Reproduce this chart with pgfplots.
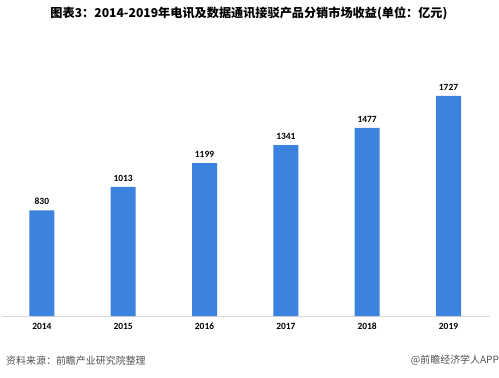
\documentclass[border=0pt]{standalone}
\usepackage{fontspec}
\usepackage{pgfplots}
\pgfplotsset{compat=1.18}
\setmainfont{Carlito}
\newfontfamily\cjk{Noto Sans CJK SC}
\definecolor{barblue}{RGB}{60,131,224}
\definecolor{axgray}{RGB}{217,217,217}
\definecolor{srcgray}{RGB}{80,80,80}
\begin{document}
\begin{tikzpicture}[x=1bp,y=1bp]
\path[use as bounding box] (0,0) rectangle (499,377);
\begin{axis}[
  at={(2bp,61bp)}, anchor=south west,
  scale only axis, width=488bp, height=235.7bp,
  xmin=-0.49, xmax=5.51, ymin=0, ymax=1850,
  axis x line=bottom, axis y line=none,
  x axis line style={draw=axgray, line width=0.8pt, -},
  xtick={0,1,2,3,4,5},
  xticklabels={2014,2015,2016,2017,2018,2019},
  major tick length=0pt,
  xticklabel style={font=\bfseries\fontsize{9.5}{10}\selectfont, text height=7pt, text depth=0pt, yshift=-3bp},
  ybar, bar width=25bp,
  /pgf/number format/1000 sep={},
  /pgf/number format/assume math mode=true,
  nodes near coords,
  every node near coord/.append style={font=\bfseries\fontsize{9.5}{10}\selectfont, text height=7pt, text depth=0pt, yshift=2bp},
]
\addplot[fill=barblue, draw=none] coordinates {(0,830) (1,1013) (2,1199) (3,1341) (4,1477) (5,1727)};
\end{axis}
\node[font=\cjk\bfseries\fontsize{12.2}{14}\selectfont, anchor=center] at (249,364) {图表3：2014-2019年电讯及数据通讯接驳产品分销市场收益(单位：亿元)};
\node[font=\cjk\fontsize{10}{12}\selectfont, text=srcgray, anchor=west, inner sep=0pt] at (6,16.5) {资料来源：前瞻产业研究院整理};
\node[font=\cjk\fontsize{10}{12}\selectfont, text=srcgray, anchor=east, inner sep=0pt] at (499,16.5) {@前瞻经济学人APP};
\end{tikzpicture}
\end{document}
